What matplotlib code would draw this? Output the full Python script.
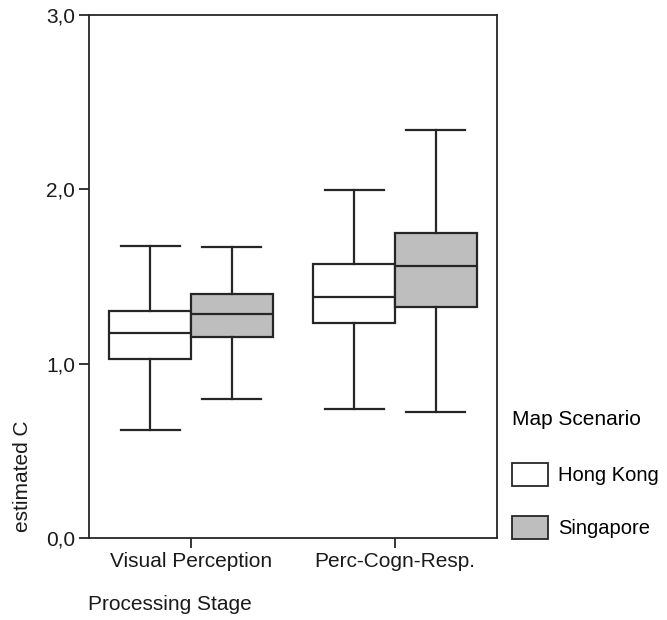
import matplotlib
matplotlib.use("Agg")
import matplotlib.pyplot as plt
from matplotlib.patches import Patch

plt.rcParams['font.family'] = ['Liberation Sans', 'DejaVu Sans']

# data
stages = ["Visual Perception", "Perc-Cogn-Resp."]
scenarios = ["Hong Kong", "Singapore"]
colors = ["white", "#bebebe"]

# per scenario: [stage0, stage1]
whislo = {"Hong Kong": [0.62, 0.74], "Singapore": [0.80, 0.72]}
q1 = {"Hong Kong": [1.027, 1.235], "Singapore": [1.155, 1.323]}
med = {"Hong Kong": [1.178, 1.382], "Singapore": [1.287, 1.56]}
q3 = {"Hong Kong": [1.302, 1.572], "Singapore": [1.401, 1.748]}
whishi = {"Hong Kong": [1.677, 1.994], "Singapore": [1.669, 2.34]}

fs = 15
fig = plt.figure(figsize=(6.67, 6.2), dpi=100)
ax = fig.add_axes([89/667, 1 - 538/620, (497-89)/667, (538-15)/620])

lc = "#262626"
offsets = [-0.2, 0.2]
for k, sc in enumerate(scenarios):
    stats = []
    for i in range(len(stages)):
        stats.append(dict(med=med[sc][i], q1=q1[sc][i], q3=q3[sc][i],
                          whislo=whislo[sc][i], whishi=whishi[sc][i], fliers=[]))
    pos = [i + offsets[k] for i in range(len(stages))]
    ax.bxp(stats, positions=pos, widths=0.4, patch_artist=True, showfliers=False,
           capwidths=0.29,
           boxprops=dict(facecolor=colors[k], edgecolor=lc, linewidth=1.6),
           medianprops=dict(color=lc, linewidth=1.6),
           whiskerprops=dict(color=lc, linewidth=1.6),
           capprops=dict(color=lc, linewidth=1.6))

ax.set_xlim(-0.5, 1.5)
ax.set_ylim(0, 3.0)
ax.set_yticks([0, 1, 2, 3])
ax.set_yticklabels(["0,0", "1,0", "2,0", "3,0"])
ax.set_xticks([0, 1])
ax.set_xticklabels(stages)
for s in ax.spines.values():
    s.set_color(lc)
    s.set_linewidth(1.3)
ax.tick_params(axis='both', colors=lc, labelcolor="#1a1a1a", labelsize=fs,
               length=7, width=1.3, pad=3)

fig.text(23/667, 1 - 476/620, "estimated C", rotation=90, ha="center", va="center",
         fontsize=fs, color="#1a1a1a")
fig.text(88/667, 1 - 605/620, "Processing Stage", ha="left", va="center",
         fontsize=fs, color="#1a1a1a")

lfs = 14.5
handles = [Patch(facecolor=c, edgecolor=lc, linewidth=1.3) for c in colors]
leg = fig.legend(handles, scenarios, title="Map Scenario", loc="upper left",
                 bbox_to_anchor=(496/667, 1 - 394/620), frameon=False,
                 fontsize=lfs, title_fontsize=15, handlelength=1.8,
                 handleheight=1.35, labelspacing=1.5, handletextpad=0.5,
                 borderpad=0.3)
leg._legend_box.align = "left"
leg._legend_box.sep = 24.5  # gap between title and entries, points

fig.savefig("out.png", dpi=100)
